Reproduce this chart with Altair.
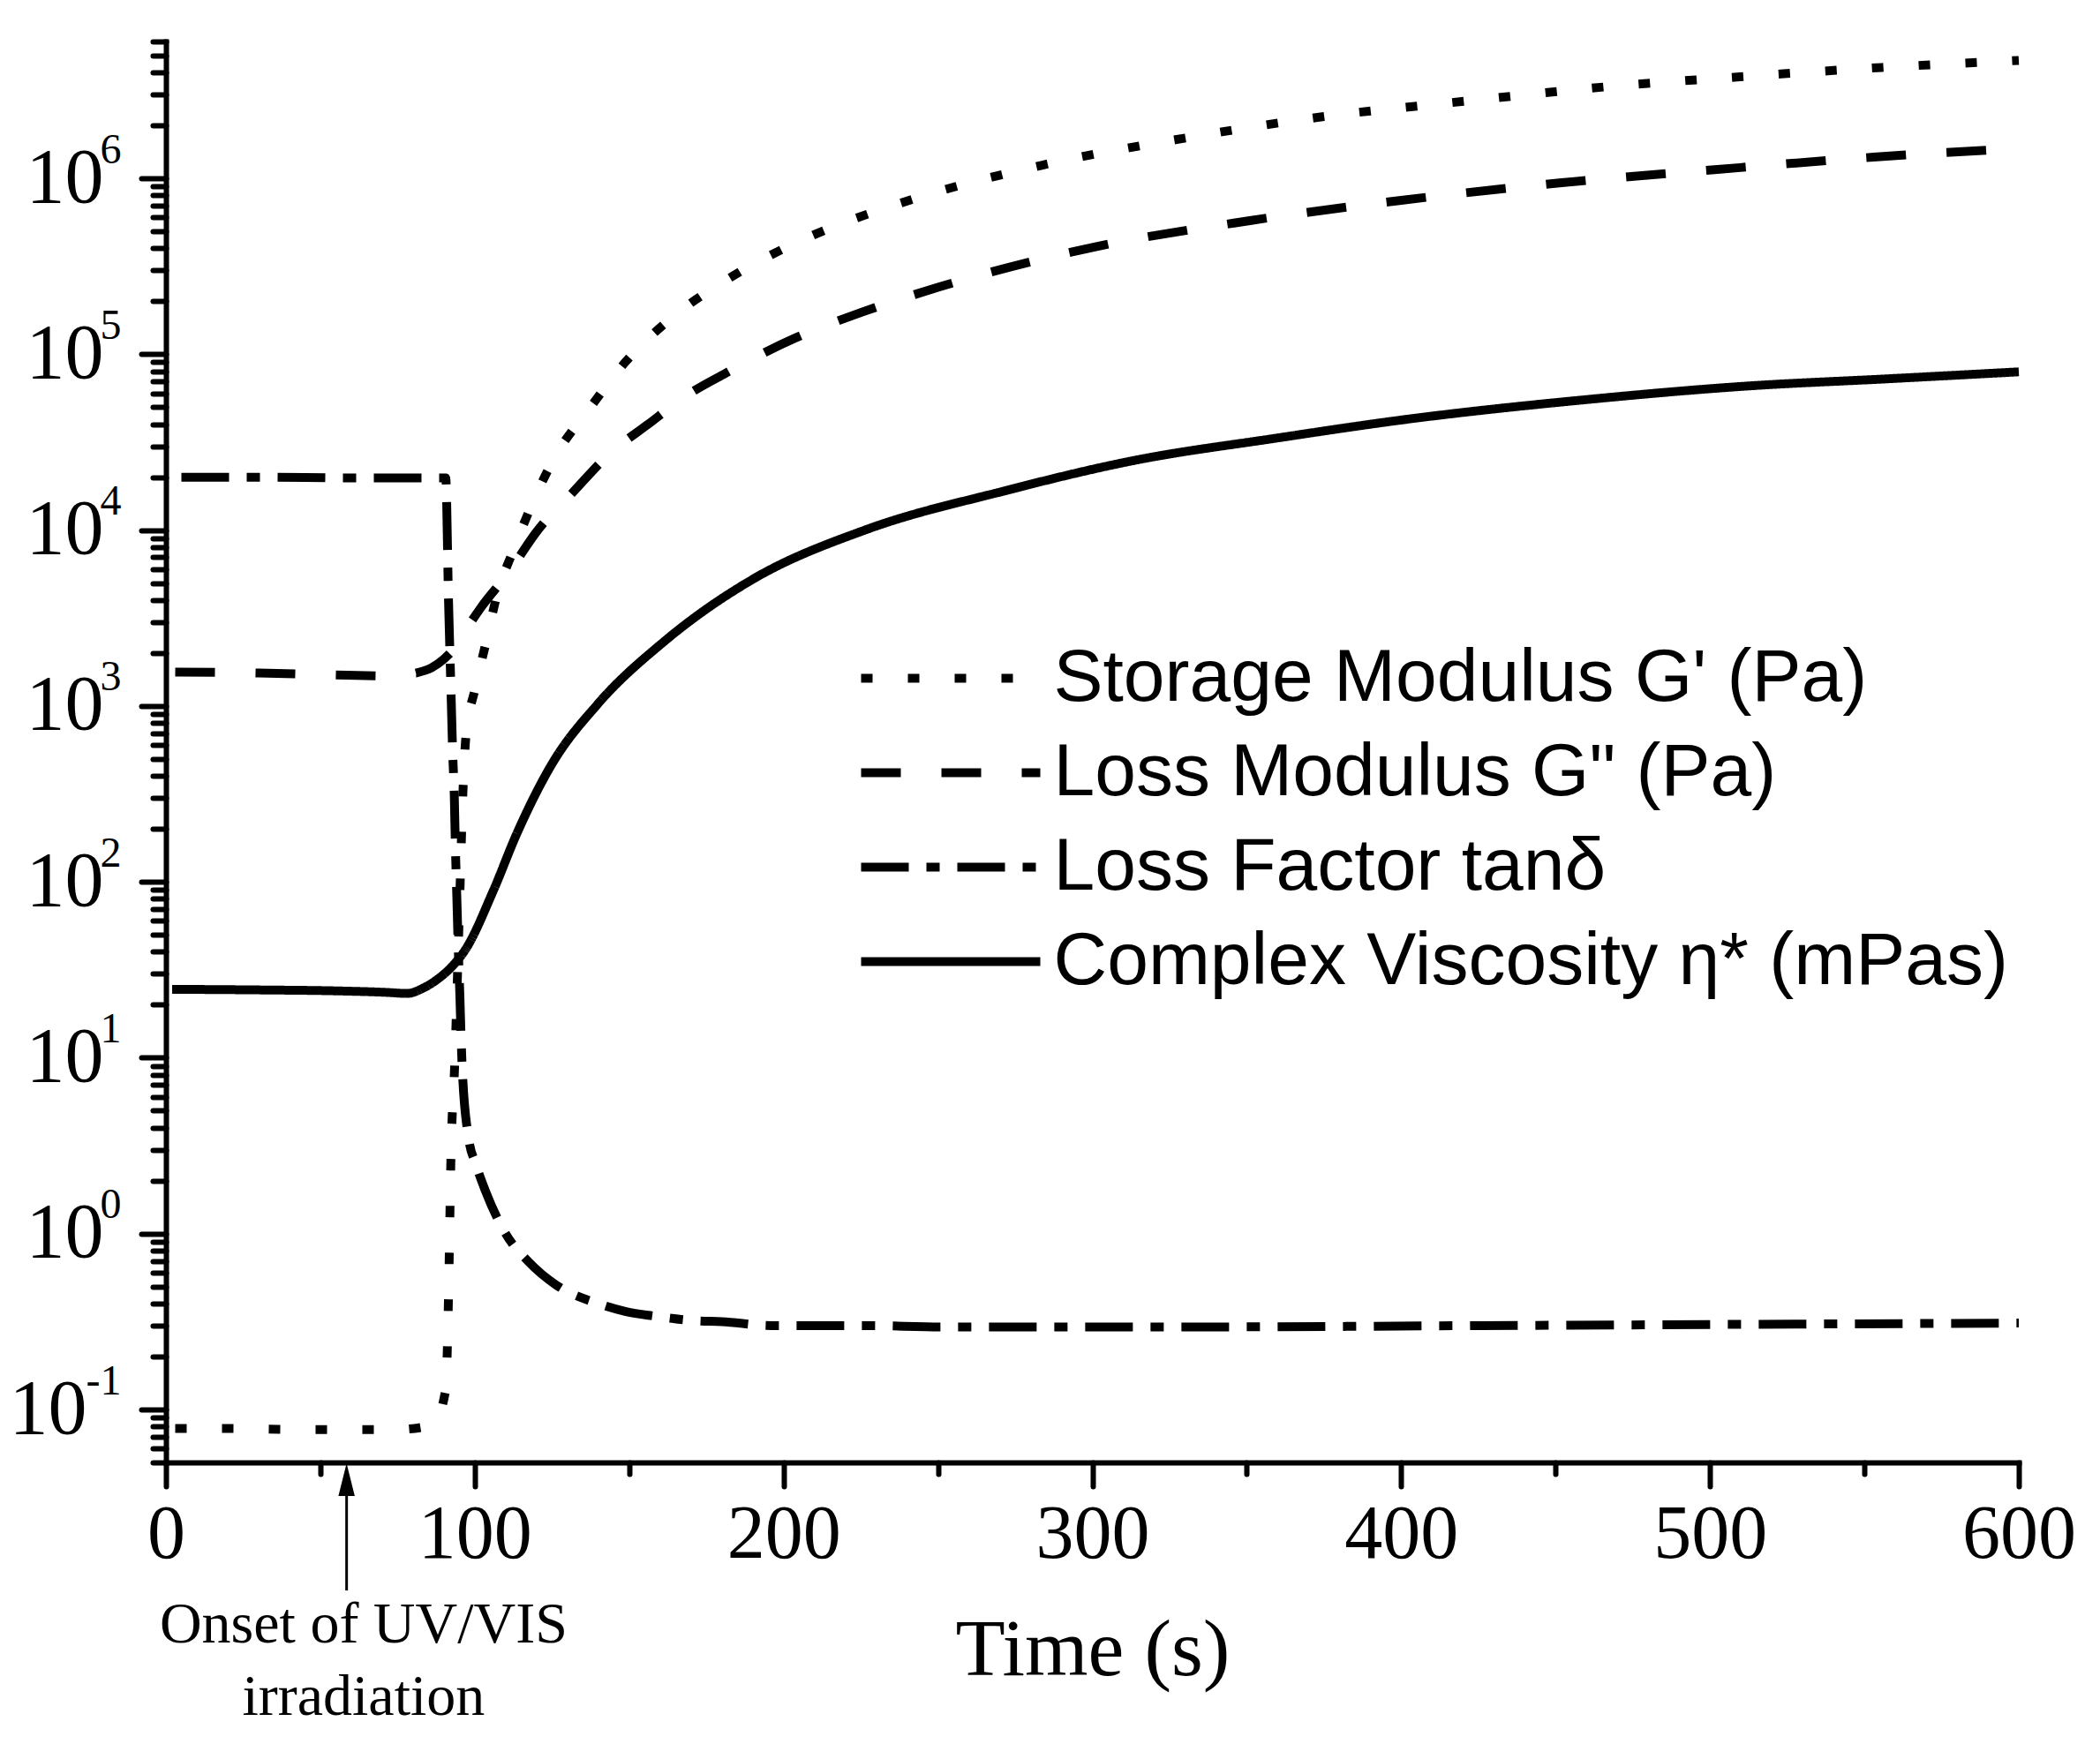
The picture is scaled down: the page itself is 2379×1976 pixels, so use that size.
import json
import altair as alt
import pandas as pd

# ---------------- data ----------------
series_names = [
    "Storage Modulus G' (Pa)",
    'Loss Modulus G" (Pa)',
    "Loss Factor tanδ",
    "Complex Viscosity η* (mPas)",
]

storage_t = [3, 20, 40, 60, 75, 82.6, 87, 90.6, 91.5, 92.3, 93.5, 94.9, 96.3, 97.2, 100,
             103.5, 107.2, 112.6, 118.6, 126.4, 136.7, 149, 163.2, 183.8, 208.7, 239.8,
             283.9, 330.5, 374.5, 421, 466, 511.7, 555.7, 600]
storage_v = [0.078, 0.078, 0.077, 0.077, 0.077, 0.079, 0.085, 0.13, 0.44, 2.8, 9.1, 58, 370,
             690, 1230, 2240, 4270, 7760, 14100, 26900, 47900, 91200, 158000, 280000,
             468000, 741000, 1190000, 1700000, 2240000, 2750000, 3310000, 3800000,
             4270000, 4680000]

loss_t = [3, 30, 55, 75, 81, 86, 90, 92.6, 96.6, 102, 111, 120, 131.5, 144, 156, 169, 181,
          203.5, 225.6, 250, 300.7, 351, 400, 452, 501.5, 553, 600]
loss_v = [1560, 1540, 1500, 1480, 1540, 1650, 1850, 2050, 2630, 3630, 5750, 9770, 16200,
          27500, 39800, 58900, 77600, 123000, 174000, 240000, 407000, 575000, 750000,
          944000, 1120000, 1320000, 1480000]

tan_t = [5, 30, 60, 85, 90.6, 91.5, 92.4, 92.8, 93.4, 93.7, 94.2, 94.6, 95.2, 95.6, 95.9,
         98, 100.3, 103.5, 110, 117.5, 126.4, 140, 149, 158, 171.5, 180, 196, 227, 251,
         300, 340, 426, 513, 600]
tan_v = [20000, 20000, 19800, 19800, 19800, 4000, 1050, 575, 295, 166, 81, 45, 22, 12.6,
         9.1, 3.5, 2.5, 1.74, 1.0, 0.69, 0.51, 0.40, 0.36, 0.34, 0.32, 0.316, 0.30, 0.30,
         0.295, 0.295, 0.295, 0.30, 0.305, 0.31]

visc_t = [2, 30, 55, 72, 78, 83.5, 88, 92.6, 96.9, 106, 113.5, 125, 139.7, 161.5, 190, 227,
          270.9, 314.6, 358.4, 402, 459, 513, 557, 600]
visc_v = [24.5, 24.3, 24.0, 23.5, 23.2, 25, 28, 33, 41, 89, 186, 468, 1020, 2340, 5250,
          10100, 16600, 25100, 33100, 42700, 55000, 66100, 72400, 79400]

x_tick_values = [0, 100, 200, 300, 400, 500, 600]
x_minor_ticks = [50, 150, 250, 350, 450, 550]
y_tick_values = [0.1, 1, 10, 100, 1000, 10000, 100000, 1000000]
y_tick_base = "10"
y_tick_exponents = ["-1", "0", "1", "2", "3", "4", "5", "6"]
y_minor_ticks = [m * 10.0 ** e for e in range(-2, 7) for m in range(2, 10)
                 if 0.05 <= m * 10.0 ** e <= 6.0e6 and m * 10.0 ** e not in y_tick_values]

onset_t = [58.5]
onset_label_t = [64]
onset_lines = ["Onset of UV/VIS", "irradiation"]

# ---------------- build table ----------------
rows = []
for name, ts, vs in zip(series_names,
                        [storage_t, loss_t, tan_t, visc_t],
                        [storage_v, loss_v, tan_v, visc_v]):
    for t, v in zip(ts, vs):
        rows.append({"t": t, "value": v, "series": name})
df = pd.DataFrame(rows)
ann = pd.DataFrame({"t": onset_t, "tl": onset_label_t})

dash_patterns = [[13, 40], [45, 46], [54, 20, 15, 20], [1, 0]]

serif = "Liberation Serif"
sans = "Liberation Sans"

idx = "[round(log(datum.value)/LN10)+1]"
exp_expr = json.dumps(y_tick_exponents, ensure_ascii=False) + idx
# exponents with a sign need the base pushed further left
signed_values = [v for v, e in zip(y_tick_values, y_tick_exponents) if e.startswith("-")]
plain_values = [v for v, e in zip(y_tick_values, y_tick_exponents) if not e.startswith("-")]
base_expr = "'" + y_tick_base + "'"


def ghost_y_axis(values, expr, size, pad, offset=0):
    return alt.Chart(df).mark_point(opacity=0).encode(
        x=alt.X("t:Q", axis=None),
        y=alt.Y("value:Q", axis=alt.Axis(orient="left", values=values, labelExpr=expr,
                                         domain=False, grid=False, ticks=True, tickSize=28,
                                         tickOpacity=0, labelFont=serif, labelFontSize=size,
                                         labelColor="black", labelPadding=pad,
                                         labelOffset=offset, labelFlush=False,
                                         labelOverlap=False, title=None)),
    )


lines = alt.Chart(df).mark_line(
    strokeWidth=10, color="black", strokeCap="butt", interpolate="monotone"
).encode(
    x=alt.X("t:Q",
            scale=alt.Scale(domain=[0, 600], nice=False, zero=False),
            axis=alt.Axis(orient="bottom", values=x_tick_values, title="Time (s)",
                          grid=False, domainWidth=6, domainColor="black", domainCap="square",
                          tickWidth=6, tickColor="black", tickSize=27, tickCap="round",
                          labelFont=serif, labelFontSize=86, labelColor="black",
                          labelPadding=12, labelFlush=False, labelOverlap=False,
                          titleFont=serif, titleFontSize=92, titleFontWeight="normal",
                          titleColor="black", titlePadding=43)),
    y=alt.Y("value:Q",
            scale=alt.Scale(type="log", domain=[0.05, 6.0e6], nice=False),
            axis=alt.Axis(orient="left", values=y_tick_values, labels=False,
                          title=None, grid=False, domainWidth=6, domainColor="black",
                          domainCap="square", tickWidth=6, tickColor="black", tickSize=28,
                          tickCap="round")),
    strokeDash=alt.StrokeDash(
        "series:N",
        scale=alt.Scale(domain=series_names, range=dash_patterns),
        legend=alt.Legend(title=None, orient="none", legendX=782.5, legendY=668,
                          symbolType="stroke", symbolSize=41209, symbolStrokeWidth=10,
                          symbolStrokeColor="black", labelFont=sans, labelFontSize=84,
                          labelColor="black", labelOffset=10, labelLimit=3000,
                          clipHeight=107, rowPadding=0, padding=0,
                          direction="vertical", columns=1),
    ),
)

bases_plain = ghost_y_axis(plain_values, base_expr, 88, 43)
bases_signed = ghost_y_axis(signed_values, base_expr, 88, 62)
exponents = ghost_y_axis(y_tick_values, exp_expr, 48, 23, -32)

minor = alt.Chart(df).mark_point(opacity=0).encode(
    x=alt.X("t:Q", axis=alt.Axis(orient="bottom", values=x_minor_ticks, labels=False,
                                 domain=False, grid=False, tickSize=13, tickWidth=6,
                                 tickColor="black", tickCap="round", title=None)),
    y=alt.Y("value:Q", axis=alt.Axis(orient="left", values=y_minor_ticks, labels=False,
                                     domain=False, grid=False, tickSize=15, tickWidth=6,
                                     tickColor="black", tickCap="round", title=None)),
)

shaft = alt.Chart(ann).mark_rule(strokeWidth=3, color="black").encode(
    x=alt.X("t:Q", axis=None), y=alt.value(1755), y2=alt.value(1640)
)
head = alt.Chart(ann).mark_point(
    shape="M0,-1L0.5,1L-0.5,1Z", filled=True, color="black", opacity=1, size=1369
).encode(x=alt.X("t:Q", axis=None), y=alt.value(1629.5))
note = alt.Chart(ann).mark_text(
    text=onset_lines, font=serif, fontSize=66, lineHeight=82, baseline="alphabetic",
    align="center", color="black"
).encode(x=alt.X("tl:Q", axis=None), y=alt.value(1814))

chart = alt.layer(lines, bases_plain, bases_signed, exponents, minor, shaft, head, note).resolve_axis(
    x="independent", y="independent"
).properties(
    width=2099, height=1610,
    autosize=alt.AutoSizeParams(type="none"),
    padding={"left": 180, "top": 39, "right": 70, "bottom": 306},
    background="white",
).configure_view(stroke=None)

chart.save("out.html", embed_options={"renderer": "svg", "actions": False})
